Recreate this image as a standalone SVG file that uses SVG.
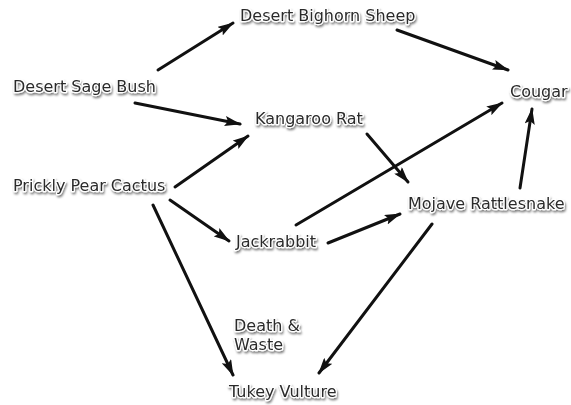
<svg xmlns="http://www.w3.org/2000/svg" width="571" height="405" viewBox="0 0 571 405">
<style>
.lbl{font-family:"DejaVu Sans","Liberation Sans",sans-serif;font-size:16px;fill:#2b2b2b;stroke:#ffffff;stroke-width:2.5px;paint-order:stroke;stroke-linejoin:round;filter:url(#sh)}
.edge{stroke:#111;stroke-width:3;fill:none;marker-end:url(#ah);stroke-linecap:round}
</style>
<defs>
<filter id="sh" x="-10%" y="-30%" width="120%" height="170%">
<feDropShadow dx="1" dy="2" stdDeviation="1.2" flood-color="#000" flood-opacity="0.5"/>
</filter>
<marker id="ah" viewBox="0 0 16 10" refX="15" refY="5" markerWidth="5.5" markerHeight="3.4" orient="auto" markerUnits="strokeWidth">
<path d="M0,0 L16,5 L0,10 L3,5 z" fill="#111"/>
</marker>
</defs>
<rect width="571" height="405" fill="#fff"/>
<g id="connectors">
<line class="edge" x1="158" y1="70" x2="233" y2="23"/>
<line class="edge" x1="135" y1="103" x2="240" y2="124"/>
<line class="edge" x1="397" y1="30" x2="508" y2="70"/>
<line class="edge" x1="367" y1="134" x2="408" y2="182"/>
<line class="edge" x1="296" y1="225" x2="502" y2="103"/>
<line class="edge" x1="520" y1="188" x2="532" y2="109"/>
<line class="edge" x1="175" y1="187" x2="248" y2="136"/>
<line class="edge" x1="170" y1="200" x2="229" y2="241"/>
<line class="edge" x1="328" y1="243" x2="400" y2="214"/>
<line class="edge" x1="153" y1="205" x2="233" y2="375"/>
<line class="edge" x1="432" y1="224" x2="319" y2="373"/>
</g>
<g id="desert-bighorn-sheep"><text class="lbl" x="240" y="21">Desert Bighorn Sheep</text></g>
<g id="desert-sage-bush"><text class="lbl" x="13" y="92">Desert Sage Bush</text></g>
<g id="cougar"><text class="lbl" x="510" y="97">Cougar</text></g>
<g id="kangaroo-rat"><text class="lbl" x="255" y="124">Kangaroo Rat</text></g>
<g id="prickly-pear-cactus"><text class="lbl" x="13" y="191">Prickly Pear Cactus</text></g>
<g id="mojave-rattlesnake"><text class="lbl" x="408" y="209">Mojave Rattlesnake</text></g>
<g id="jackrabbit"><text class="lbl" x="236" y="247">Jackrabbit</text></g>
<g id="death-waste"><text class="lbl" x="234" y="331">Death &amp;</text><text class="lbl" x="234" y="350">Waste</text></g>
<g id="tukey-vulture"><text class="lbl" x="229" y="397">Tukey Vulture</text></g>
</svg>
